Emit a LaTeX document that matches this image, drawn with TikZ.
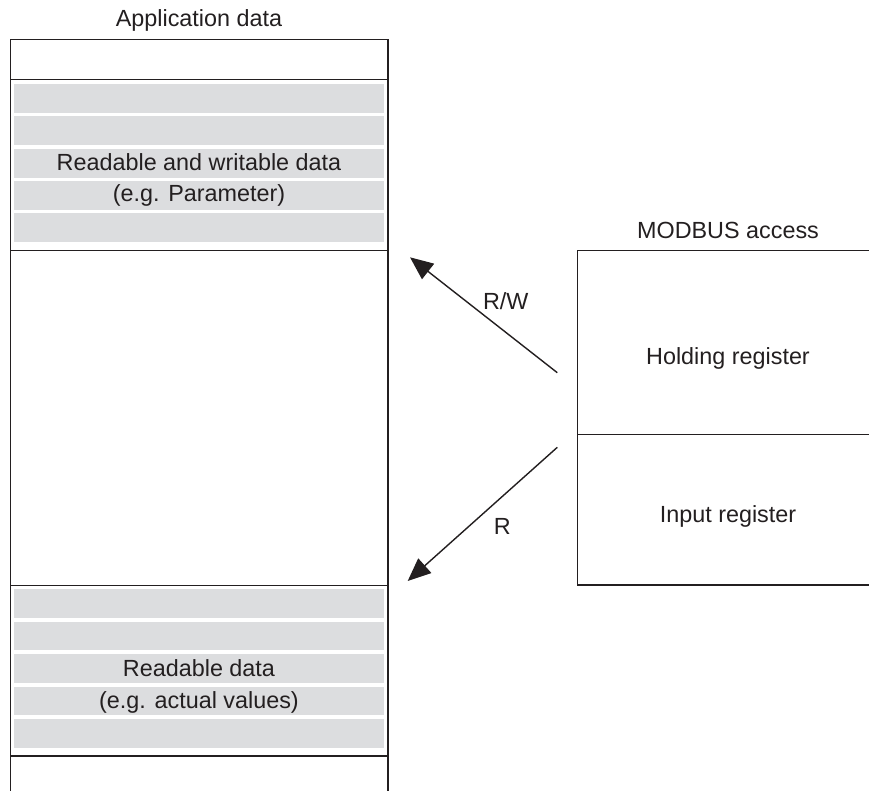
\documentclass[tikz,border=0pt]{standalone}
\usepackage{fontspec}
\setmainfont{Liberation Sans}
\usetikzlibrary{arrows.meta}
\definecolor{bandgray}{HTML}{DCDDDF}
\definecolor{ink}{HTML}{231F20}
\tikzset{
	frame/.style={draw=ink, line width=0.75pt},
	band/.style={fill=bandgray},
	lbl/.style={text=ink, anchor=base, inner sep=0pt, font=\fontsize{13.3}{16}\selectfont},
	access/.style={draw=ink, line width=0.8pt, -{Triangle[length=4.6mm,width=3.9mm]}}
}

\begin{document}
\begin{tikzpicture}[x=0.02cm, y=-0.02cm]
		%%%%% START %%%%%
		\useasboundingbox (0,0) rectangle (869,791);
		
		% application data
		\node[lbl] (apptitle) at (199,26.7) {Application data};
		\draw[frame] (10.5,791) -- (10.5,39.5) -- (388,39.5) -- (388,791);
		\draw[frame] (10.5,79.5) -- (388,79.5);
		\draw[frame] (10.5,250.5) -- (388,250.5);
		\draw[frame] (10.5,585.5) -- (388,585.5);
		\draw[frame] (10.5,756) -- (388,756);
		
		\foreach \y in {84,116.3,148.6,180.9,213.2}
			\fill[band] (14,\y) rectangle (384,\y+29);
		\foreach \y in {589,621.5,654,686.5,719}
			\fill[band] (14,\y) rectangle (384,\y+28.7);
		
		\node[lbl] (rwdata) at (199,170) {Readable and writable data};
		\node[lbl] (rwexample) at (199,201.7) {(e.g. Parameter)};
		\node[lbl] (rdata) at (199,676) {Readable data};
		\node[lbl] (rexample) at (199,708.3) {(e.g. actual values)};
		
		% modbus access
		\node[lbl] (modtitle) at (728,238.3) {MODBUS access};
		\draw[frame] (869,250.7) -- (577.5,250.7) -- (577.5,585) -- (869,585);
		\draw[frame] (577.5,434.3) -- (869,434.3);
		\node[lbl] (holding) at (728,364) {Holding register};
		\node[lbl] (input) at (728,522.7) {Input register};
		
		% arrows
		\coordinate (rwstart) at (557.3,372.7);
		\coordinate (rwend) at (410,257.3);
		\coordinate (rstart) at (557.3,447.3);
		\coordinate (rend) at (407.7,581);
		\draw[access] (rwstart) -- (rwend);
		\draw[access] (rstart) -- (rend);
		\node[lbl] (rwlabel) at (505.8,309.3) {R/W};
		\node[lbl] (rlabel) at (502.3,534.3) {R};
		
		%%%%% END %%%%%
\end{tikzpicture}
\end{document}
